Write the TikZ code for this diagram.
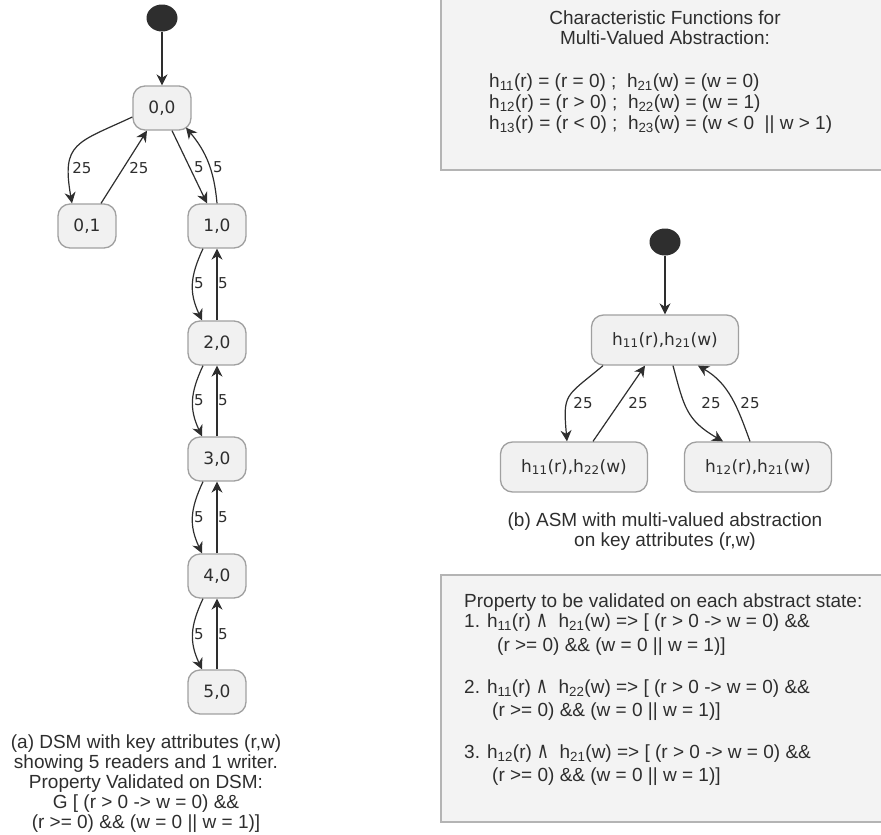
\documentclass[tikz,border=0pt]{standalone}
\usepackage{fontspec}
\setmainfont{Liberation Sans}
\newfontfamily\statefont{DejaVu Sans}
\usetikzlibrary{arrows.meta,shapes.geometric}
\definecolor{boxfill}{HTML}{F3F3F3}
\definecolor{boxline}{HTML}{B4B4B4}
\definecolor{statefill}{HTML}{F1F1F1}
\definecolor{stateline}{HTML}{A0A0A0}
\definecolor{ink}{HTML}{2E2E2E}
\newcommand{\andsym}{\smash{\scalebox{0.85}[1.2]{\statefont ∧}}}

\tikzset{
  state/.style={draw=stateline, fill=statefill, rounded corners=12pt, line width=1.3pt,
    minimum width=58pt, minimum height=44pt, inner sep=0pt, text=ink,
    font=\statefont\fontsize{17}{20}\selectfont},
  widestate/.style={state, minimum width=147pt, minimum height=50pt},
  initdot/.style={ellipse, fill=ink, minimum width=31pt, minimum height=27pt, inner sep=0pt},
  trans/.style={draw=ink, line width=1.2pt, -{Stealth[length=11pt,width=11pt,inset=3.5pt]}},
  edgelbl/.style={text=ink, inner sep=0pt, font=\statefont\fontsize{15}{15}\selectfont},
  txt/.style={text=ink, inner sep=0pt, anchor=base west, font=\fontsize{19}{20}\selectfont},
  ctxt/.style={txt, anchor=base},
  infobox/.style={draw=boxline, fill=boxfill, line width=2.5pt},
}

\begin{document}
\begin{tikzpicture}[x=1pt,y=-1pt]
  \useasboundingbox (0,0) rectangle (881,835);

  % boxes on the right
  \draw[infobox] (441,-10) rectangle (895,170);
  \draw[infobox] (441,575) rectangle (895,822);

  \node[ctxt] (cf1) at (665,24) {Characteristic Functions for};
  \node[ctxt] (cf2) at (665,44) {Multi-Valued Abstraction:};
  \node[txt] (cf3) at (489,87) {h\textsubscript{11}(r) = (r = 0) ;\ \ h\textsubscript{21}(w) = (w = 0)};
  \node[txt] (cf4) at (489,108) {h\textsubscript{12}(r) = (r > 0) ;\ \ h\textsubscript{22}(w) = (w = 1)};
  \node[txt] (cf5) at (489,129) {h\textsubscript{13}(r) = (r < 0) ;\ \ h\textsubscript{23}(w) = (w < 0\ \ || w > 1)};

  \node[txt] (pr0) at (464,607) {Property to be validated on each abstract state:};
  \node[txt] (pr1) at (464,627) {1. h\textsubscript{11}(r) \andsym\ \ h\textsubscript{21}(w) => [ (r > 0 -> w = 0) \&\&};
  \node[txt] (pr1b) at (497,651) {(r >= 0) \&\& (w = 0 || w = 1)]};
  \node[txt] (pr2) at (464,693) {2. h\textsubscript{11}(r) \andsym\ \ h\textsubscript{22}(w) => [ (r > 0 -> w = 0) \&\&};
  \node[txt] (pr2b) at (492,716) {(r >= 0) \&\& (w = 0 || w = 1)]};
  \node[txt] (pr3) at (464,758) {3. h\textsubscript{12}(r) \andsym\ \ h\textsubscript{21}(w) => [ (r > 0 -> w = 0) \&\&};
  \node[txt] (pr3b) at (492,781) {(r >= 0) \&\& (w = 0 || w = 1)]};

  % (a) DSM
  \node[initdot] (ini1) at (162,18) {};
  \node[state] (n00) at (162,108) {0,0};
  \node[state] (n01) at (87,226) {0,1};
  \node[state] (n10) at (217,226) {1,0};
  \node[state] (n20) at (217,343) {2,0};
  \node[state] (n30) at (217,459) {3,0};
  \node[state] (n40) at (217,576) {4,0};
  \node[state] (n50) at (217,692) {5,0};

  \draw[trans] (ini1) -- (n00);
  \draw[trans] ([yshift=-9pt]n00.west) to[out=205,in=100,looseness=1.5] ([xshift=-15pt]n01.north);
  \draw[trans] ([xshift=14pt]n01.north) -- ([xshift=-15pt]n00.south);
  \draw[trans] ([xshift=10pt]n00.south) -- ([xshift=-10pt]n10.north);
  \draw[trans] (n10.north) to[out=95,in=-50] ([xshift=24pt,yshift=3pt]n00.south);
  \draw[trans] ([xshift=-14pt]n10.south) to[out=-115,in=115,looseness=1.1] ([xshift=-15pt]n20.north);
  \draw[trans] (n20.north) -- (n10.south);
  \draw[trans] ([xshift=-14pt]n20.south) to[out=-115,in=115,looseness=1.1] ([xshift=-15pt]n30.north);
  \draw[trans] (n30.north) -- (n20.south);
  \draw[trans] ([xshift=-14pt]n30.south) to[out=-115,in=115,looseness=1.1] ([xshift=-15pt]n40.north);
  \draw[trans] (n40.north) -- (n30.south);
  \draw[trans] ([xshift=-14pt]n40.south) to[out=-115,in=115,looseness=1.1] ([xshift=-15pt]n50.north);
  \draw[trans] (n50.north) -- (n40.south);

  \node[edgelbl] (w1) at (82,168) {25};
  \node[edgelbl] (w2) at (139,168) {25};
  \node[edgelbl] (w3) at (199,167) {5};
  \node[edgelbl] (w4) at (218,167) {5};
  \node[edgelbl] (w5) at (199,283) {5};
  \node[edgelbl] (w6) at (223,283) {5};
  \node[edgelbl] (w7) at (199,400) {5};
  \node[edgelbl] (w8) at (223,400) {5};
  \node[edgelbl] (w9) at (199,517) {5};
  \node[edgelbl] (w10) at (223,517) {5};
  \node[edgelbl] (w11) at (199,634) {5};
  \node[edgelbl] (w12) at (223,634) {5};

  \node[ctxt] (capa1) at (146,748) {(a) DSM with key attributes (r,w)};
  \node[ctxt] (capa2) at (146,768) {showing 5 readers and 1 writer.};
  \node[ctxt] (capa3) at (146,788) {Property Validated on DSM:};
  \node[ctxt] (capa4) at (146,808) {G [ (r > 0 -> w = 0) \&\&};
  \node[ctxt] (capa5) at (146,828) {(r >= 0) \&\& (w = 0 || w = 1)]};

  % (b) ASM
  \node[initdot] (ini2) at (665,242) {};
  \node[widestate] (hTop) at (665,340) {h\textsubscript{11}(r),h\textsubscript{21}(w)};
  \node[widestate] (hLeft) at (574,467) {h\textsubscript{11}(r),h\textsubscript{22}(w)};
  \node[widestate] (hRight) at (758,467) {h\textsubscript{12}(r),h\textsubscript{21}(w)};

  \draw[trans] (ini2) -- (hTop);
  \draw[trans] ([xshift=-62pt]hTop.south) to[out=220,in=95,looseness=1.5] ([xshift=-7pt]hLeft.north);
  \draw[trans] ([xshift=19pt]hLeft.north) -- ([xshift=-20pt]hTop.south);
  \draw[trans] ([xshift=8pt]hTop.south) to[out=-75,in=150,looseness=1.2] ([xshift=-35pt]hRight.north);
  \draw[trans] ([xshift=-8pt]hRight.north) to[out=110,in=-30] ([xshift=33pt]hTop.south);

  \node[edgelbl] (v1) at (583,403) {25};
  \node[edgelbl] (v2) at (638,403) {25};
  \node[edgelbl] (v3) at (711,403) {25};
  \node[edgelbl] (v4) at (750,403) {25};

  \node[ctxt] (capb1) at (665,526) {(b) ASM with multi-valued abstraction};
  \node[ctxt] (capb2) at (665,546) {on key attributes (r,w)};
\end{tikzpicture}
\end{document}
